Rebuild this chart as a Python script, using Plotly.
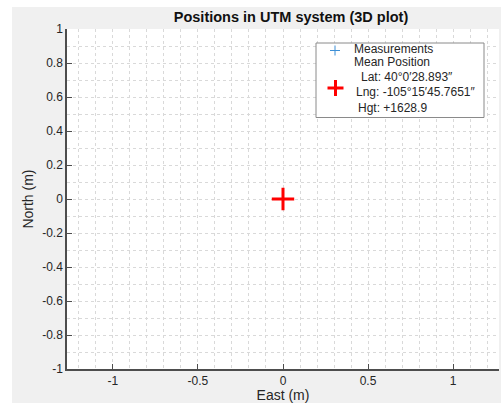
import plotly.graph_objects as go

# Data
meas_east = [0.0]
meas_north = [0.0]
mean_east = [0.0]
mean_north = [0.0]
lat_txt = "40°0′28.893″"
lng_txt = "-105°15′45.7651″"
hgt_txt = "+1628.9"
legend_lines = ["Measurements", "Mean Position", "Lat: " + lat_txt,
                "Lng: " + lng_txt, "Hgt: " + hgt_txt]
x_ticks = [-1, -0.5, 0, 0.5, 1]
x_labels = ["-1", "-0.5", "0", "0.5", "1"]
y_ticks = [-1, -0.8, -0.6, -0.4, -0.2, 0, 0.2, 0.4, 0.6, 0.8, 1]
y_labels = ["-1", "-0.8", "-0.6", "-0.4", "-0.2", "0", "0.2", "0.4", "0.6", "0.8", "1"]

FONT = "Liberation Sans, Arial, sans-serif"
TXT = "#262626"
AX = "#4d4d4d"
GRID = "#d9d9d9"
BLUE = "#3d8fd6"
RED = "#ff0000"

W, H = 501, 403
ML, MR, MT, MB = 67, 2, 29, 34
PW, PH = W - ML - MR, H - MT - MB


def px(x):
    return (x - ML) / PW


def py(y):
    return 1 - (y - MT) / PH


fig = go.Figure()
fig.add_trace(go.Scatter(
    x=meas_east, y=meas_north, mode="markers", name="Measurements",
    marker=dict(symbol="cross-thin", size=9, line=dict(color=BLUE, width=1)),
))
fig.add_trace(go.Scatter(
    x=mean_east, y=mean_north, mode="markers", name="Mean Position",
    marker=dict(symbol="cross-thin", size=16, line=dict(color=RED, width=3)),
))

# manual legend (box, symbols, texts)
shapes = [
    dict(type="rect", xref="paper", yref="paper", x0=-0.2, x1=1.1,
         y0=py(7), y1=1.2, fillcolor="white", line=dict(width=0), layer="above"),
    dict(type="rect", xref="paper", yref="paper", x0=-0.2, x1=px(12),
         y0=-0.2, y1=1.2, fillcolor="white", line=dict(width=0), layer="above"),
    dict(type="rect", xref="paper", yref="paper", x0=px(316), x1=px(484),
         y0=py(117.5), y1=py(43), fillcolor="white",
         line=dict(color="#8a8a8a", width=1), layer="above"),
]


def cross(cx, cy, half, color, width):
    return [
        dict(type="line", xref="paper", yref="paper", x0=px(cx - half), x1=px(cx + half),
             y0=py(cy), y1=py(cy), line=dict(color=color, width=width), layer="above"),
        dict(type="line", xref="paper", yref="paper", x0=px(cx), x1=px(cx),
             y0=py(cy - half), y1=py(cy + half), line=dict(color=color, width=width), layer="above"),
    ]


shapes += cross(335, 50.5, 5, BLUE, 1)
shapes += cross(335.5, 88, 8, RED, 3)

text_pos = [(352.7, 49.3), (352.7, 62), (359.5, 77.5), (354.5, 91.8), (356.5, 108.3)]
annotations = []
for t, (tx, ty) in zip(legend_lines, text_pos):
    annotations.append(dict(text=t, xref="paper", yref="paper", x=px(tx), y=py(ty),
                            xanchor="left", yanchor="middle", showarrow=False, borderpad=0,
                            font=dict(size=12, color=TXT, family=FONT)))

fig.update_layout(
    width=W, height=H,
    margin=dict(l=ML, r=MR, t=MT, b=MB, autoexpand=False),
    paper_bgcolor="#f0f0f0",
    plot_bgcolor="white",
    font=dict(family=FONT, size=12, color=TXT),
    title=dict(text="<b>Positions in UTM system (3D plot)</b>", x=px(291), xref="paper",
               xanchor="center",
               y=1 - 17 / H, yref="container", yanchor="middle",
               font=dict(size=14.5, color="#111111", family=FONT)),
    showlegend=False,
    shapes=shapes,
    annotations=annotations,
)

fig.update_xaxes(
    range=[-1.27, 1.27], tickvals=x_ticks, ticktext=x_labels, automargin=False,
    showline=True, linecolor=AX, linewidth=1.5, mirror=False,
    ticks="inside", ticklen=5, tickcolor=AX, tickwidth=1,
    showgrid=True, gridcolor=GRID, griddash="dot", gridwidth=1,
    minor=dict(dtick=0.1, tick0=0, showgrid=True, gridcolor=GRID, griddash="dot", ticks=""),
    zeroline=False,
    title=dict(text="East (m)", font=dict(size=14, color=TXT), standoff=4),
    tickfont=dict(size=12, color=TXT),
)
fig.update_yaxes(
    range=[-1, 1], tickvals=y_ticks, ticktext=y_labels, automargin=False,
    showline=True, linecolor=AX, linewidth=1.5, mirror=False,
    ticks="inside", ticklen=5, tickcolor=AX, tickwidth=1,
    showgrid=True, gridcolor=GRID, griddash="dot", gridwidth=1,
    minor=dict(dtick=0.1, tick0=0, showgrid=True, gridcolor=GRID, griddash="dot", ticks=""),
    zeroline=False,
    title=dict(text="North (m)", font=dict(size=14, color=TXT), standoff=5),
    tickfont=dict(size=12, color=TXT),
)

fig.write_html("out.html", config={"displayModeBar": False},
               post_script="document.body.style.margin='0';document.body.style.overflow='hidden';")
